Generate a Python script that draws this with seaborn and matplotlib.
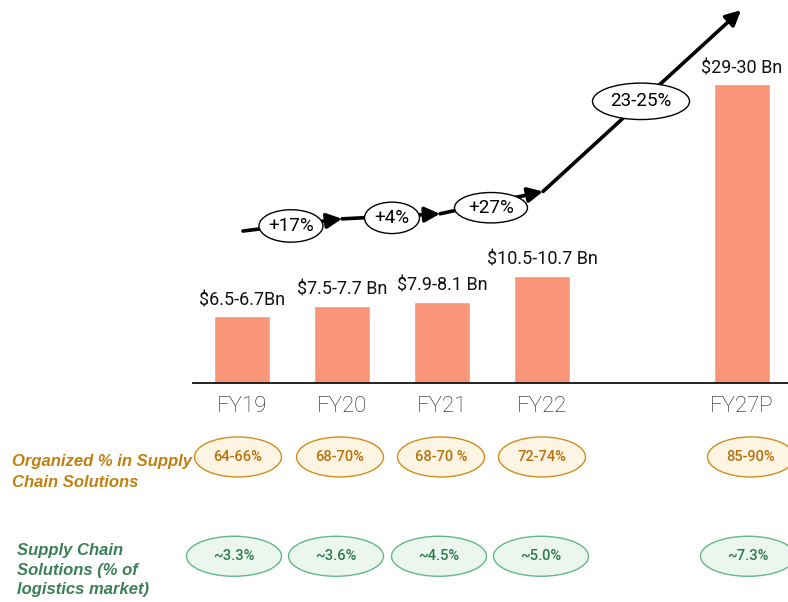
import matplotlib
matplotlib.use("Agg")
import matplotlib.pyplot as plt
from matplotlib.patches import Ellipse
import seaborn as sns
import pandas as pd

# ---- data ----
categories = ["FY19", "FY20", "FY21", "FY22", "FY27P"]
market_size = [6.6, 7.6, 8.0, 10.6, 29.5]          # midpoints, $ Bn
value_labels = ["$6.5-6.7Bn", "$7.5-7.7 Bn", "$7.9-8.1 Bn", "$10.5-10.7 Bn", "$29-30 Bn"]
growth_labels = ["+17%", "+4%", "+27%", "23-25%"]
organized_share = ["64-66%", "68-70%", "68-70 %", "72-74%", "85-90%"]
scs_share = ["~3.3%", "~3.6%", "~4.5%", "~5.0%", "~7.3%"]
row1_title = "Organized % in Supply\nChain Solutions"
row2_title = "Supply Chain\nSolutions (% of\nlogistics market)"

# ---- style ----
sns.set_style("white")
plt.rcParams["font.family"] = ["Roboto", "DejaVu Sans"]

BAR = "#F9967A"
ORG_FILL, ORG_EDGE, ORG_TEXT, ORG_LABEL = "#FEF4E3", "#CF8E1C", "#B5720A", "#C0800E"
GRN_FILL, GRN_EDGE, GRN_TEXT, GRN_LABEL = "#EAF6EE", "#62B887", "#2E7A4E", "#3B7F58"

W, H = 788, 602
fig = plt.figure(figsize=(W / 100, H / 100), dpi=100)
ax = fig.add_axes([193 / W, (H - 383) / H, (W - 193) / W, 383 / H])

order = ["FY19", "FY20", "FY21", "FY22", " ", "FY27P"]
df = pd.DataFrame({"year": categories, "size": market_size})
sns.barplot(data=df, x="year", y="size", order=order, color=BAR,
            width=0.56, saturation=1, ax=ax)

ax.set_xlim(-0.49, 5.46)
ax.set_ylim(0, 37.8)
ax.set_xlabel("")
ax.set_ylabel("")
ax.set_yticks([])
for s in ["top", "right", "left"]:
    ax.spines[s].set_visible(False)
ax.spines["bottom"].set_linewidth(1.3)
ax.spines["bottom"].set_color("#111111")
ax.tick_params(axis="x", length=0, pad=9, labelsize=16, labelcolor="#1e1e1e")
for t in ax.get_xticklabels():
    t.set_fontweight("light")

pos = {c: order.index(c) for c in categories}

# value labels
for c, v, lab in zip(categories, market_size, value_labels):
    ax.text(pos[c], v + 0.7, lab, ha="center", va="bottom", fontsize=13,
            color="#111111")

# growth line with arrows
path_x = [0.01, 1.0, 1.98, 3.01, 4.99]
path_y = [15.0, 16.2, 16.7, 18.9, 36.8]
for i in range(len(path_x) - 1):
    ax.annotate("", xy=(path_x[i + 1], path_y[i + 1]), xytext=(path_x[i], path_y[i]),
                arrowprops=dict(arrowstyle="-|>,head_length=0.9,head_width=0.45",
                                lw=2.6, color="black", shrinkA=0, shrinkB=0),
                annotation_clip=False, zorder=4)

g_x = [0.49, 1.5, 2.49, 3.99]
g_y = [15.5, 16.3, 17.3, 27.8]
g_w = [0.64, 0.55, 0.73, 0.97]
g_h = [3.2, 3.1, 3.0, 3.6]
for x, y, w, h, lab in zip(g_x, g_y, g_w, g_h, growth_labels):
    ax.add_patch(Ellipse((x, y), w, h, facecolor="white", edgecolor="black",
                         lw=1.0, zorder=5, clip_on=False))
    ax.text(x, y, lab, ha="center", va="center", fontsize=13.5, color="black",
            zorder=6)

# bottom rows of ovals
row1_off = [-0.04, -0.02, -0.01, 0.0, 0.09]
row2_off = [-0.08, -0.06, -0.03, -0.01, 0.06]
for c, lab, o in zip(categories, organized_share, row1_off):
    x = pos[c] + o
    ax.add_patch(Ellipse((x, -7.3), 0.87, 3.95, facecolor=ORG_FILL, edgecolor=ORG_EDGE,
                         lw=1.0, clip_on=False, zorder=3))
    ax.text(x, -7.3, lab, ha="center", va="center", fontsize=10.5, color=ORG_TEXT,
            fontweight="medium", zorder=4)
for c, lab, o in zip(categories, scs_share, row2_off):
    x = pos[c] + o
    ax.add_patch(Ellipse((x, -17.1), 0.95, 3.95, facecolor=GRN_FILL, edgecolor=GRN_EDGE,
                         lw=1.0, clip_on=False, zorder=3))
    ax.text(x, -17.1, lab, ha="center", va="center", fontsize=10.5, color=GRN_TEXT,
            fontweight="medium", zorder=4)

fig.text(12 / W, 1 - 472 / H, row1_title, ha="left", va="center", fontsize=12,
         fontweight="bold", fontstyle="italic", color=ORG_LABEL,
         family=["Liberation Sans", "DejaVu Sans"], linespacing=1.45)
fig.text(17 / W, 1 - 570 / H, row2_title, ha="left", va="center", fontsize=12,
         fontweight="bold", fontstyle="italic", color=GRN_LABEL,
         family=["Liberation Sans", "DejaVu Sans"], linespacing=1.4)

fig.savefig("out.png", dpi=100)
